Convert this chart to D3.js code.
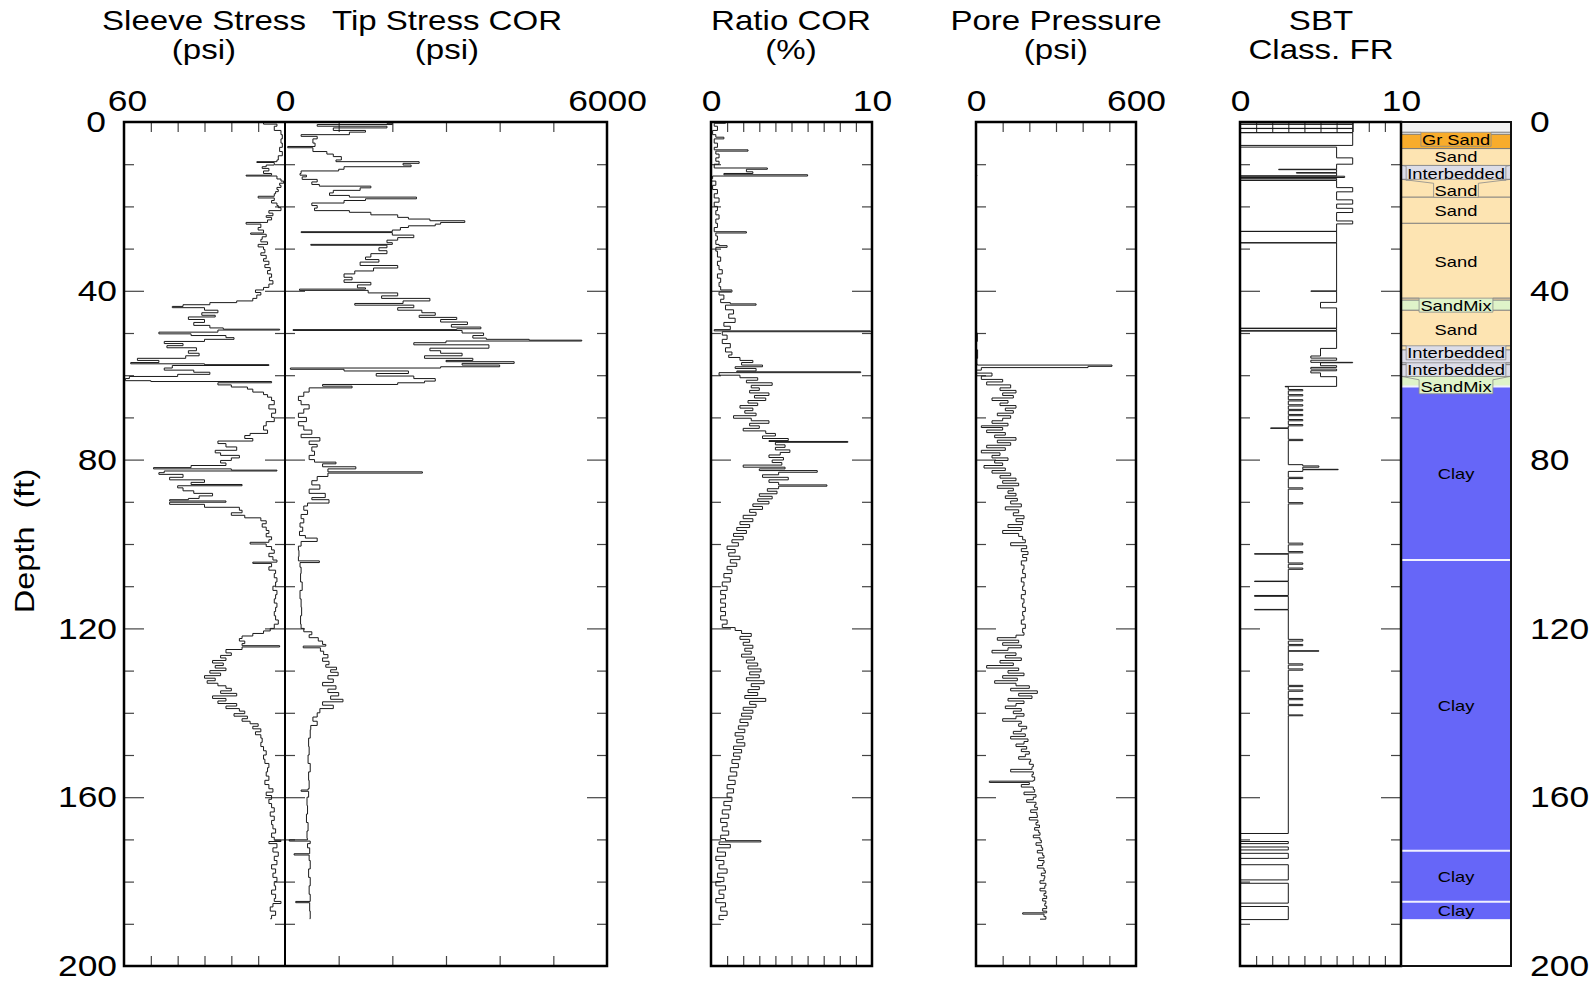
<!DOCTYPE html>
<html><head><meta charset="utf-8">
<script src="https://cdn.jsdelivr.net/npm/d3@7"></script>
<style>
body{margin:0;background:#fff}
text{font-family:"Liberation Sans",Arial,sans-serif;fill:#000}
</style>
</head><body>
<svg id="chart" width="1592" height="985"></svg>
<script>
// ---------------- DATA (depth ft, value) ----------------
const sleeveData = [[0,8],[0.5,3],[1,4],[2,1.5],[3,1],[4,1.5],[5,1],[6,2],[7,1],[8,2.5],[9,3],[9.4,10.5],[9.6,4],[10.2,7],[10.6,8.5],[11,6],[11.6,8],[12.2,5],[12.6,14.5],[12.8,3],[13.5,1.5],[14,0.5],[14.5,2],[15,1.5],[15.5,3],[16,2.5],[16.5,3.5],[17,4],[17.6,10],[18,4],[18.6,5],[19.2,3],[19.8,2.5],[20.3,1.5],[21,6],[21.6,4.5],[22.2,7],[22.6,5],[23.2,6.5],[23.8,14.5],[24.2,9],[25,10],[25.6,8],[26.3,12.8],[26.6,7],[27.2,8.5],[27.8,9],[28.4,6.5],[29,10],[29.6,8],[30.2,7.5],[31,9],[31.6,7],[32.4,8],[33,6],[33.8,7.5],[34.5,5.5],[35.2,6.5],[36,5],[36.8,5.8],[37.6,4.5],[38.4,6],[39.2,8],[39.8,11],[40.4,9],[41,10.5],[41.8,12],[42.4,18],[42.8,28],[43.3,38],[43.7,42],[44,30],[44.6,25],[45.2,31],[45.8,26],[46.2,36],[46.8,30],[47.5,34],[48.2,28],[48.8,23],[49.1,2],[49.3,25],[49.8,47],[50.2,35],[50.6,22],[51.1,19],[51.5,30],[52,45],[52.5,38],[53,44],[53.5,33],[54.2,36],[54.8,32],[55.4,37],[56,55],[56.5,47],[57,57.5],[57.3,30],[57.5,6],[57.7,42],[58.3,45],[58.8,34],[59.3,28],[59.8,40],[60.3,58],[60.8,59.5],[61.3,50],[61.5,5],[61.8,25],[62.3,20],[62.8,14],[63.3,12],[64,8],[64.6,6.5],[65.2,5],[66,4],[67,6],[68,3.5],[69,5],[70,4],[71,7],[72,8],[73,6.5],[73.8,13],[74.3,15],[75,12],[75.6,25],[76.2,22],[77,18],[77.8,26],[78.4,24],[79,17],[79.6,20],[80.2,24],[80.8,22],[81.4,35],[81.9,49],[82.2,20],[82.5,3],[82.7,45],[83.1,47],[83.5,38],[84.2,43],[84.8,30],[85.4,35],[85.9,16],[86.2,40],[86.7,38],[87.4,34],[88,27],[88.6,32],[89.2,36],[89.5,43],[89.8,22],[90.1,43],[90.6,30],[91.3,17],[92,16],[92.6,20],[93.2,15],[93.8,9],[94.5,7],[95.2,8.5],[96,7],[96.8,6],[97.5,7],[98.3,5],[99,6],[99.6,13],[100,7],[100.6,5],[101.4,4],[102.2,6],[103,4.5],[103.8,3],[104.3,12],[104.6,5],[105.4,6],[106.2,3.5],[107,4],[108,3],[109,3.5],[110,4.5],[111,3],[112,3.5],[113,4],[114,3],[115,3.5],[116,4],[117,3.5],[118,2.5],[119,4],[120,5.5],[120.6,8],[121.2,12],[121.8,16],[122.4,17],[123,15],[123.6,16],[124.1,2],[124.4,16],[125,22],[125.8,20],[126.4,24],[127,22],[127.6,27],[128.2,23],[128.8,26],[129.4,22],[130,28],[130.6,24],[131.2,30],[131.8,26],[132.4,29],[133,25],[133.6,22],[134.2,20],[134.8,24],[135.4,18],[136,27],[136.6,22],[137.2,25],[137.8,18],[138.4,22],[139,17],[139.6,15],[140.2,19],[140.8,14],[141.4,16],[142,13],[142.6,10],[143.2,12],[143.8,9],[144.5,11],[145.2,9],[146,8.5],[147,9],[148,8],[149,7],[150,8],[151,7.5],[152,6],[153,6.5],[154,7],[155,6],[156,7.5],[157,6],[158,4.5],[158.8,7],[159.6,5],[160.5,6],[161.5,5],[162.5,4],[163.5,5.5],[164.5,4],[165.5,5],[166.5,4.5],[167.5,3.5],[168.5,5],[169.5,4],[170.2,1.5],[170.5,6],[171,3],[172,4.5],[173,2.5],[174,4],[175,3],[176,5],[177,3.5],[178,4.5],[179,3],[180,4],[181,3.5],[182,5],[183,3.5],[184,4],[184.7,1.5],[185.2,4.5],[186,5.5],[187,3.5],[188,5],[188.8,5.5]];

const tipData = [[0,1900],[0.3,2000],[0.6,600],[1,1900],[1.4,900],[2,1500],[2.4,1200],[3,300],[3.4,600],[4,520],[5,560],[5.8,50],[6.1,520],[7,780],[7.6,900],[8.2,1050],[9,950],[9.4,2500],[9.8,2200],[10.2,2350],[10.6,1100],[11.2,1000],[11.6,300],[12.2,280],[12.6,400],[13,320],[13.6,600],[14.2,500],[14.8,640],[15.2,1600],[15.6,1400],[16.2,900],[16.8,830],[17.4,1200],[17.8,2450],[18.2,1500],[18.6,1100],[19.2,500],[19.8,600],[20.4,550],[21,1200],[21.4,1600],[22,2100],[22.6,2300],[23,2700],[23.4,3350],[23.8,2900],[24.2,2800],[24.6,2300],[25,2150],[25.6,2000],[26,300],[26.2,2000],[26.8,2400],[27.4,2100],[28,1900],[28.6,2000],[29,480],[29.2,1900],[29.8,1750],[30.5,1900],[31.2,1600],[32,1500],[32.6,1750],[33.2,1400],[34,2100],[34.6,1650],[35.3,1300],[36,1100],[36.8,1250],[37.4,1100],[38,1600],[38.6,1350],[39.3,1500],[39.6,270],[39.9,1550],[40.5,2100],[41.2,1800],[41.8,2700],[42.4,2200],[43,1300],[43.4,2400],[44,2100],[44.6,2550],[45.2,2800],[45.8,2500],[46.3,3200],[46.8,2900],[47.4,3400],[48,3100],[48.6,3650],[49,3200],[49.2,150],[49.4,3300],[50,3700],[50.6,3500],[51.2,3750],[51.5,4550],[51.7,5530],[51.9,3000],[52.3,2400],[52.8,3800],[53.6,2700],[54.2,2900],[54.8,3300],[55.4,2600],[56,3500],[56.5,3000],[56.8,4270],[57.2,3300],[57.6,4000],[58,2900],[58.3,100],[58.6,1100],[59,2300],[59.6,1700],[60.2,2400],[60.8,2800],[61.4,2600],[61.8,2100],[62.2,700],[62.6,1250],[63,450],[64,350],[65,250],[66,300],[67,450],[68,350],[69,250],[70,400],[71,250],[72,350],[73,500],[74,300],[74.8,650],[75.6,450],[76.4,600],[77,500],[78,550],[79,450],[80,550],[80.6,950],[81,700],[81.7,1320],[82.2,800],[82.9,2560],[83.2,800],[84,600],[85,500],[86,650],[87,450],[88,750],[89,500],[89.5,820],[90.3,420],[91,350],[92,420],[93,300],[94,350],[95,280],[96,330],[97,270],[98,380],[98.6,600],[99.4,300],[100.5,250],[101.5,260],[103,250],[104,640],[104.4,280],[105.5,300],[107,290],[109,320],[111,280],[113,300],[115,310],[117,290],[119,300],[120,350],[120.8,500],[121.5,450],[122.2,620],[123,700],[123.8,760],[124.2,340],[124.6,660],[125.4,720],[126.2,800],[127,700],[127.8,820],[128.6,760],[129.2,960],[129.8,850],[130.4,990],[131.2,800],[132,900],[132.8,700],[133.6,950],[134.4,800],[135.2,1000],[136,850],[136.8,1080],[137.4,700],[138.2,900],[139,650],[140,600],[141,520],[142,600],[143,480],[144,470],[146,440],[148,450],[150,430],[152,470],[154,440],[156,450],[158,430],[158.3,300],[158.6,440],[160,410],[162,420],[164,400],[166,430],[168,410],[169.8,420],[170.1,80],[170.4,470],[171,420],[172,460],[173.4,170],[173.7,450],[175,470],[177,440],[179,470],[181,450],[183,470],[184.7,200],[185,460],[187,470],[188.8,460]];

const ratioData = [[0,0.9],[0.3,0.2],[1,0.4],[2,0.1],[3,0.3],[3.6,0.8],[4,0.2],[5,0.4],[6,0.2],[6.6,2.3],[6.9,0.3],[7.6,0.5],[8.5,0.3],[9.3,0.5],[10,0.2],[10.9,3.5],[11.2,2.2],[11.8,2.6],[12.2,0.8],[12.5,6.0],[12.8,0.1],[13.4,0],[14,0.3],[15,0.1],[16,0.4],[17,0.2],[18,0.5],[19,0.2],[20,0.4],[21,0.3],[22,0.5],[23,0.3],[24,0.4],[25,0.2],[26,2.2],[26.3,0.3],[27,0.4],[28,0.3],[29,0.5],[29.3,1.0],[29.7,0.3],[30.6,0.4],[32,0.6],[33,0.4],[34,0.5],[35,0.7],[36,0.4],[37,0.6],[38,0.5],[39,0.6],[39.8,1.3],[40.3,0.5],[41,0.8],[42,0.6],[42.8,1.2],[43.1,2.8],[43.4,0.9],[44.5,1.4],[45.5,1.1],[46.5,1.5],[47.5,0.8],[48.4,1.2],[49.2,0.2],[49.5,9.9],[49.7,0.7],[50.5,1.0],[51.5,0.7],[52.5,1.2],[53.5,0.9],[54.5,1.3],[55.2,1.1],[55.8,1.8],[56.5,2.6],[57,1.9],[57.6,3.2],[58,1.5],[58.4,2.8],[59,1.6],[59.2,9.3],[59.4,0.5],[60,1.8],[60.6,2.9],[61.2,2.2],[61.8,3.8],[62.4,2.5],[63,3.0],[63.6,2.4],[64.2,3.6],[64.8,2.7],[65.4,3.4],[66,2.3],[66.6,2.9],[67.2,1.8],[67.8,2.6],[68.4,2.1],[69,2.8],[69.6,1.4],[70.2,2.5],[70.8,3.6],[71.4,2.4],[72,3.0],[72.6,2.0],[73.2,3.4],[73.8,4.0],[74.4,3.2],[75,4.8],[75.5,3.6],[75.7,8.5],[75.9,4.0],[76.5,4.6],[77.1,4.0],[77.7,4.9],[78.3,4.3],[78.9,3.6],[79.5,4.5],[80.1,3.8],[80.7,4.4],[81.3,2.0],[81.8,4.6],[82.2,3.0],[82.6,6.6],[83,4.2],[83.6,3.2],[84.2,4.8],[84.8,3.6],[85.4,4.2],[86,7.2],[86.3,4.2],[86.9,3.5],[87.5,4.1],[88.1,3.0],[88.7,3.8],[89.3,2.9],[89.9,3.6],[90.5,2.6],[91.1,3.2],[91.8,2.4],[92.5,2.8],[93.2,2.0],[94,2.6],[94.7,1.8],[95.4,2.4],[96.1,1.6],[96.8,2.2],[97.5,1.4],[98.2,2.0],[99,1.3],[99.7,1.7],[100.5,1.0],[101.3,1.5],[102.1,1.1],[102.9,1.8],[103.7,1.2],[104.5,1.6],[105.3,1.0],[106.1,1.3],[107,0.8],[108,1.2],[109,0.7],[110,1.0],[111,0.6],[112,0.9],[113,0.6],[114,0.9],[115,0.6],[116,0.9],[117,0.6],[118,1.0],[119,0.7],[119.8,1.5],[120.5,1.9],[121.2,2.5],[121.9,1.8],[122.6,2.4],[123.3,2.0],[124,2.6],[124.7,2.1],[125.4,2.5],[126.1,1.9],[126.8,2.7],[127.5,2.2],[128.2,2.9],[128.9,2.3],[129.6,3.1],[130.3,2.4],[131,3.0],[131.7,2.2],[132.4,3.3],[133.1,2.5],[133.8,3.0],[134.5,2.3],[135.2,2.9],[135.9,2.1],[136.6,3.4],[137.3,2.4],[138,2.8],[138.7,2.0],[139.4,2.6],[140.1,1.9],[140.8,2.5],[141.5,1.8],[142.3,2.3],[143.1,1.7],[143.9,2.1],[144.7,1.5],[145.5,2.0],[146.3,1.6],[147.1,2.1],[147.9,1.4],[148.7,1.9],[149.5,1.4],[150.3,1.8],[151.1,1.3],[152,1.7],[153,1.2],[154,1.6],[155,1.1],[156,1.5],[157,1.0],[158,1.4],[159,1.0],[160,1.3],[161,0.8],[162,1.2],[163,0.7],[164,1.1],[165,0.6],[166,1.0],[167,0.7],[168,1.1],[169,0.6],[169.8,0.9],[170.3,3.1],[170.6,0.5],[171.2,1.2],[172,0.4],[173,0.9],[174,0.3],[175,0.8],[176,0.5],[177,1.0],[178,0.4],[179,0.8],[180,0.3],[181,0.9],[182,0.5],[183,0.8],[184,0.3],[185,0.9],[186,0.6],[187,1.0],[188,0.5],[189,0.8]];

const poreData = [[0,0],[12.5,0],[12.6,3],[12.8,0],[49,0],[50,5],[52,2],[54,6],[56,3],[57.4,5],[57.6,510],[57.9,420],[58.2,20],[58.8,0],[59.5,60],[60.2,20],[61,100],[61.6,40],[62.3,130],[63,90],[63.6,150],[64.2,100],[64.8,140],[65.4,60],[66,120],[66.6,90],[67.2,150],[67.8,110],[68.4,140],[69,80],[69.6,130],[70.2,100],[70.8,60],[71.4,120],[72,20],[72.4,100],[73,40],[73.6,110],[74.2,70],[74.8,150],[75.4,80],[76,130],[76.6,40],[77.2,110],[77.8,20],[78.4,90],[79,60],[79.6,120],[80.2,70],[80.8,100],[81.4,30],[82,110],[82.6,60],[83.2,130],[83.8,90],[84.4,150],[85,100],[85.6,160],[86.2,80],[86.8,140],[87.4,120],[88,150],[88.6,110],[89.2,155],[89.8,130],[90.5,170],[91.2,110],[91.9,160],[92.6,140],[93.3,180],[94,150],[94.7,175],[95.4,120],[96.1,170],[96.8,100],[97.5,160],[98.2,175],[99,185],[99.7,130],[100.4,190],[101.1,170],[101.8,195],[102.5,175],[103.2,190],[104,170],[105,180],[106,175],[107,185],[108,170],[109,180],[110,175],[111,185],[112,170],[113,180],[114,175],[115,185],[116,175],[117,180],[118,170],[119,185],[120,175],[121,180],[121.6,150],[122.2,80],[122.8,160],[123.4,100],[124,170],[124.6,120],[125.2,60],[125.8,150],[126.4,110],[127,170],[127.6,90],[128.2,140],[128.8,40],[129.4,160],[130,120],[130.6,180],[131.2,100],[131.8,155],[132.4,70],[133,150],[133.6,200],[134.2,130],[134.8,230],[135.4,160],[136,210],[136.6,120],[137.2,180],[137.8,150],[138.4,110],[139,170],[139.6,140],[140.2,180],[140.8,150],[141.4,100],[142,170],[142.6,160],[143.2,190],[143.8,170],[144.4,140],[145,185],[145.6,130],[146.2,195],[146.8,180],[147.4,150],[148,190],[148.6,170],[149.2,200],[149.8,185],[150.4,160],[151,205],[151.6,200],[152.2,215],[152.8,210],[153.4,130],[154,215],[154.6,210],[155.2,220],[156,215],[156.2,50],[156.5,200],[157,170],[157.6,215],[158.2,220],[158.8,180],[159.4,225],[160,215],[160.6,190],[161.2,225],[161.8,220],[162.4,230],[163,205],[163.6,228],[164.2,230],[164.8,200],[165.4,232],[166,225],[166.6,238],[167.2,220],[167.8,235],[168.4,240],[169,215],[169.6,240],[170.2,245],[170.8,225],[171.4,245],[172,250],[172.6,230],[173.2,250],[173.8,255],[174.4,235],[175,255],[175.6,250],[176.2,230],[176.8,255],[177.4,260],[178,245],[178.6,258],[179.2,255],[179.8,240],[180.4,262],[181,258],[181.6,240],[182.2,262],[182.8,255],[183.4,265],[184,250],[184.6,262],[185.2,258],[185.8,265],[186.4,250],[187,265],[187.4,175],[187.7,255],[188.3,262],[188.9,240]];

// SBT friction-ratio class: [start depth, class] held until next start
const frSteps = [[0,7],[0.5,0],[0.55,7],[1.5,0],[1.55,7],[2.5,0],[2.55,7],[5.55,0],[5.95,6],[8.5,7],[10,6],[11.2,2.4],[11.3,6],[12,3.5],[12.1,6],[12.75,0],[12.85,6.5],[13.15,0],[13.35,6],[13.75,0],[13.85,6],[15.55,7],[16.55,6],[18.45,7],[19.45,6],[20.45,7],[21.45,6],[23.45,7],[24.15,6],[25.9,0],[25.95,6],[28.6,0],[28.65,6],[40.05,4.4],[40.1,6],[42.75,5],[44.05,6],[48.85,0],[48.95,6],[49.45,0],[49.55,6],[53.65,5],[55.45,4.4],[55.95,6],[56.45,4.4],[56.95,7],[57.05,5],[57.75,6],[58.15,4.4],[58.55,6],[58.95,4.4],[59.45,5],[60.35,6],[62.65,2.8],[62.75,3],[63.4,3.9],[63.7,3],[64.6,3.9],[64.9,3],[65.8,3.9],[66.1,3],[67,3.9],[67.3,3],[68.1,3.9],[68.4,3],[69.3,3.9],[69.6,3],[70.5,3.9],[70.8,3],[71.7,3.9],[72,3],[72.5,1.9],[72.6,3],[75.2,3.9],[75.5,3],[81.2,3.9],[81.5,4.9],[81.8,3.9],[82.3,6.1],[82.4,3.9],[82.8,3],[84.2,3.9],[84.5,3],[86.7,3.9],[87,3],[90.2,3.9],[90.5,3],[99.8,3.9],[100.2,3],[101.8,3.9],[102.1,3],[102.3,0.9],[102.4,3],[104.5,3.9],[104.8,3],[105.7,3.9],[106,3],[108.8,0.9],[108.9,3],[112.2,0.9],[112.4,3],[115.5,0.9],[115.6,3],[122.6,3.9],[123,3],[123.8,3.9],[124.1,3],[125.3,4.9],[125.4,3],[128.4,3.9],[128.7,3],[129.6,3.9],[129.9,3],[133.5,3.9],[133.8,3],[134.6,3.9],[134.9,3],[136.6,3.9],[136.9,3],[138,3.9],[138.3,3],[140.5,3.9],[140.7,3],[168.6,0],[170.5,3],[171,0],[171.8,3],[172.5,0],[173.3,3],[174.5,0],[176,3],[179.6,0],[180.4,3],[185.1,0],[185.9,3],[189,0]];

// SBT layers
const sbtTop    = [0,2.9,6.3,10.3,13.6,17.8,24,42.2,44.6,54,57.5,60.3,62.7,103.8,172.7,184.8];
const sbtBase   = [2.9,6.3,10.3,13.6,17.8,24,42.2,44.6,54,57.5,60.3,62.7,103.8,172.7,184.8,188.9];
const sbtType   = ["none","GrSand","Sand","Interbedded","Sand","Sand","Sand","SandMix","Sand","Interbedded","Interbedded","SandMix","Clay","Clay","Clay","Clay"];
const sbtLabels = ["","Gr Sand","Sand","Interbedded","Sand","Sand","Sand","SandMix","Sand","Interbedded","Interbedded","SandMix","Clay","Clay","Clay","Clay"];

// Axis labels / ticks
const depthTickLabels = [0,40,80,120,160,200];
const minorDepths = [10,20,30,50,60,70,90,100,110,130,140,150,170,180,190];
const majorDepths = [40,80,120,160];

// ---------------- DRAW ----------------
const svg = d3.select("#chart");
const STRETCH = 1.18;
function stretch(sel, k){
  sel.each(function(){
    const w = this.getComputedTextLength();
    d3.select(this).attr("textLength", w*(k||STRETCH)).attr("lengthAdjust","spacingAndGlyphs");
  });
}

const TOP = 122, BOT = 966;
const y = d3.scaleLinear().domain([0,200]).range([TOP,BOT]);

const sleeveX = d3.scaleLinear().domain([60,0]).range([124,285]);
const tipX = d3.scaleLinear().domain([0,6000]).range([285,607]);
const ratioX = d3.scaleLinear().domain([0,10]).range([711,872]);
const poreX = d3.scaleLinear().domain([0,600]).range([976,1136]);
const frX = d3.scaleLinear().domain([0,10]).range([1240,1401]);
const colL = 1401, colR = 1511;

function edgeTicks(x, dir){
  const mk = dir > 0 ? d3.axisRight : d3.axisLeft;
  [[minorDepths,10],[majorDepths,20]].forEach(([vals,len])=>{
    const g = svg.append("g").attr("transform",`translate(${x},0)`)
      .call(mk(y).tickValues(vals).tickSize(len).tickFormat(""));
    g.select(".domain").remove();
    g.selectAll("line").attr("stroke","#444").attr("stroke-width",1.2);
  });
}
function topBottomTicks(scale, vals){
  const g1 = svg.append("g").attr("transform",`translate(0,${TOP})`)
    .call(d3.axisBottom(scale).tickValues(vals).tickSize(10).tickFormat(""));
  const g2 = svg.append("g").attr("transform",`translate(0,${BOT})`)
    .call(d3.axisTop(scale).tickValues(vals).tickSize(10).tickFormat(""));
  [g1,g2].forEach(g=>{g.select(".domain").remove(); g.selectAll("line").attr("stroke","#444").attr("stroke-width",1.2);});
}

// SBT column layers
const colors = {none:"#f3f3f3",GrSand:"#f8ac2c",Sand:"#fde4b2",Interbedded:"#dcdde8",SandMix:"#dff3c9",Clay:"#6666f8"};
const layers = sbtTop.map((t,i)=>({top:t,base:sbtBase[i],type:sbtType[i],label:sbtLabels[i]}));
const gCol = svg.append("g");
gCol.selectAll("rect.layer").data(layers).join("rect").attr("class","layer")
  .attr("x",colL).attr("width",colR-colL)
  .attr("y",d=>y(d.top)).attr("height",d=>y(d.base)-y(d.top))
  .attr("fill",d=>colors[d.type]);
gCol.selectAll("line.bnd").data(layers.slice(1)).join("line").attr("class","bnd")
  .attr("x1",colL).attr("x2",colR).attr("y1",d=>y(d.top)).attr("y2",d=>y(d.top))
  .attr("stroke",d=>d.type==="Clay"?"#f0f0ff":"#777").attr("stroke-width",d=>d.type==="Clay"?2:1);

// label placement: 1-D cluster relaxation so labels do not overlap
const GAP = 17;
const lab = layers.filter(d=>d.label).map(d=>Object.assign({want:y((d.top+d.base)/2)}, d));
let clusters = lab.map(d=>({items:[d], mean:d.want}));
const place = c => { c.mean = d3.mean(c.items, d=>d.want); c.start = c.mean - (c.items.length-1)*GAP/2; };
clusters.forEach(place);
let merged = true;
while (merged) {
  merged = false;
  for (let i=0;i<clusters.length-1;i++){
    const a = clusters[i], b = clusters[i+1];
    if (a.start + a.items.length*GAP > b.start) {
      a.items = a.items.concat(b.items); place(a); clusters.splice(i+1,1); merged = true; break;
    }
  }
}
clusters.forEach(c=>c.items.forEach((d,i)=>d.ly = c.start + i*GAP));

const gLab = gCol.selectAll("g.lab").data(lab).join("g").attr("class","lab");
gLab.each(function(d){
  const g = d3.select(this);
  const t = g.append("text").attr("x",(colL+colR)/2).attr("y",d.ly).attr("dy","0.36em")
    .attr("text-anchor","middle").attr("font-size",15).text(d.label)
    .attr("fill", d.label==="Clay" && d.base-d.top<5 ? "#1c1c8a" : "#000");
  stretch(t, 1.22);
  const w = this.getBBox().width;
  const bt = d.ly-7, bb = d.ly+7;
  const lt = y(d.top), lb = y(d.base);
  if (bt < lt || bb > lb) {
    const bl = (colL+colR)/2 - w/2 - 1, br = (colL+colR)/2 + w/2 + 1;
    const sTop = Math.min(lt, bt);
    g.insert("path","text")
      .attr("d", `M${colL+1},${sTop}L${colR-1},${sTop}L${br},${bt}L${br},${bb}L${bl},${bb}L${bl},${bt}Z`)
      .attr("fill", colors[d.type]).attr("stroke","#8a8a8a").attr("stroke-width",0.8);
  }
});

// ticks
edgeTicks(124, 1); edgeTicks(607, -1); edgeTicks(285, 1); edgeTicks(285, -1);
edgeTicks(711, 1); edgeTicks(872, -1);
edgeTicks(976, 1); edgeTicks(1136, -1);
edgeTicks(1240, 1); edgeTicks(colL, -1);
topBottomTicks(sleeveX, [50,40,30,20,10]);
topBottomTicks(tipX, [1000,2000,3000,4000,5000]);
topBottomTicks(ratioX, [1,2,3,4,5,6,7,8,9]);
topBottomTicks(poreX, [100,200,300,400,500]);
topBottomTicks(frX, [1,2,3,4,5,6,7,8,9]);

// data lines (stepped logs)
const lineStyle = p => p.attr("fill","none").attr("stroke","#1a1a1a").attr("stroke-width",1);
const stepLine = sx => d3.line().curve(d3.curveStepBefore).x(d=>sx(d[1])).y(d=>y(d[0]));
svg.append("path").datum(sleeveData).call(lineStyle).attr("d", stepLine(sleeveX));
svg.append("path").datum(tipData).call(lineStyle).attr("d", stepLine(tipX));
svg.append("path").datum(ratioData).call(lineStyle).attr("d", stepLine(ratioX));
svg.append("path").datum(poreData).call(lineStyle).attr("d", stepLine(poreX));
svg.append("path").datum(frSteps).call(lineStyle).attr("d", stepLine(frX));

// frames
const frame = (x0,x1)=>svg.append("rect").attr("x",x0).attr("y",TOP).attr("width",x1-x0).attr("height",BOT-TOP)
  .attr("fill","none").attr("stroke","#000").attr("stroke-width",2.5);
frame(124,607); frame(711,872); frame(976,1136); frame(1240,colL);
svg.append("line").attr("x1",285).attr("x2",285).attr("y1",TOP).attr("y2",BOT).attr("stroke","#000").attr("stroke-width",2);
svg.append("path").attr("d",`M${colL},${TOP}H${colR}V${BOT}H${colL}`).attr("fill","none").attr("stroke","#111").attr("stroke-width",2);

// top value labels
function topLabels(scale, vals, dx){
  const g = svg.append("g").attr("transform",`translate(${dx||0},${TOP})`)
    .call(d3.axisTop(scale).tickValues(vals).tickSize(0).tickPadding(11).tickFormat(d3.format("d")));
  g.select(".domain").remove();
  g.selectAll("text").attr("font-size",30).attr("font-family",null).attr("fill","#000");
  stretch(g.selectAll("text"));
}
topLabels(sleeveX,[60],3); topLabels(sleeveX,[0]); topLabels(tipX,[6000]); topLabels(ratioX,[0,10]);
topLabels(poreX,[0,600]); topLabels(frX,[0,10]);

// depth labels
const gL = svg.append("g").attr("transform","translate(124,0)")
  .call(d3.axisLeft(y).tickValues(depthTickLabels).tickSize(0).tickPadding(7));
const gR = svg.append("g").attr("transform",`translate(${colR},0)`)
  .call(d3.axisRight(y).tickValues(depthTickLabels).tickSize(0).tickPadding(19));
[gL,gR].forEach(g=>{
  g.select(".domain").remove();
  g.selectAll("text").attr("font-size",30).attr("font-family",null).attr("fill","#000");
  stretch(g.selectAll("text"));
});
// keep the top-left "0" clear of the "60" label above it
gL.selectAll(".tick").filter(d=>d===0).select("text").attr("x",-18);

// headers
const headers = [
  ["Sleeve Stress","(psi)",204],
  ["Tip Stress COR","(psi)",447],
  ["Ratio COR","(%)",791],
  ["Pore Pressure","(psi)",1056],
  ["SBT","Class. FR",1321]
];
headers.forEach(([a,b,x])=>{
  stretch(svg.append("text").attr("x",x).attr("y",30).attr("text-anchor","middle").attr("font-size",28).text(a));
  stretch(svg.append("text").attr("x",x).attr("y",59).attr("text-anchor","middle").attr("font-size",28).text(b));
});
const yt = svg.append("text").attr("transform","translate(34,541) rotate(-90)").attr("text-anchor","middle")
  .attr("font-size",28).style("white-space","pre").text("Depth  (ft)");
stretch(yt, 1.16);
</script>
</body></html>
